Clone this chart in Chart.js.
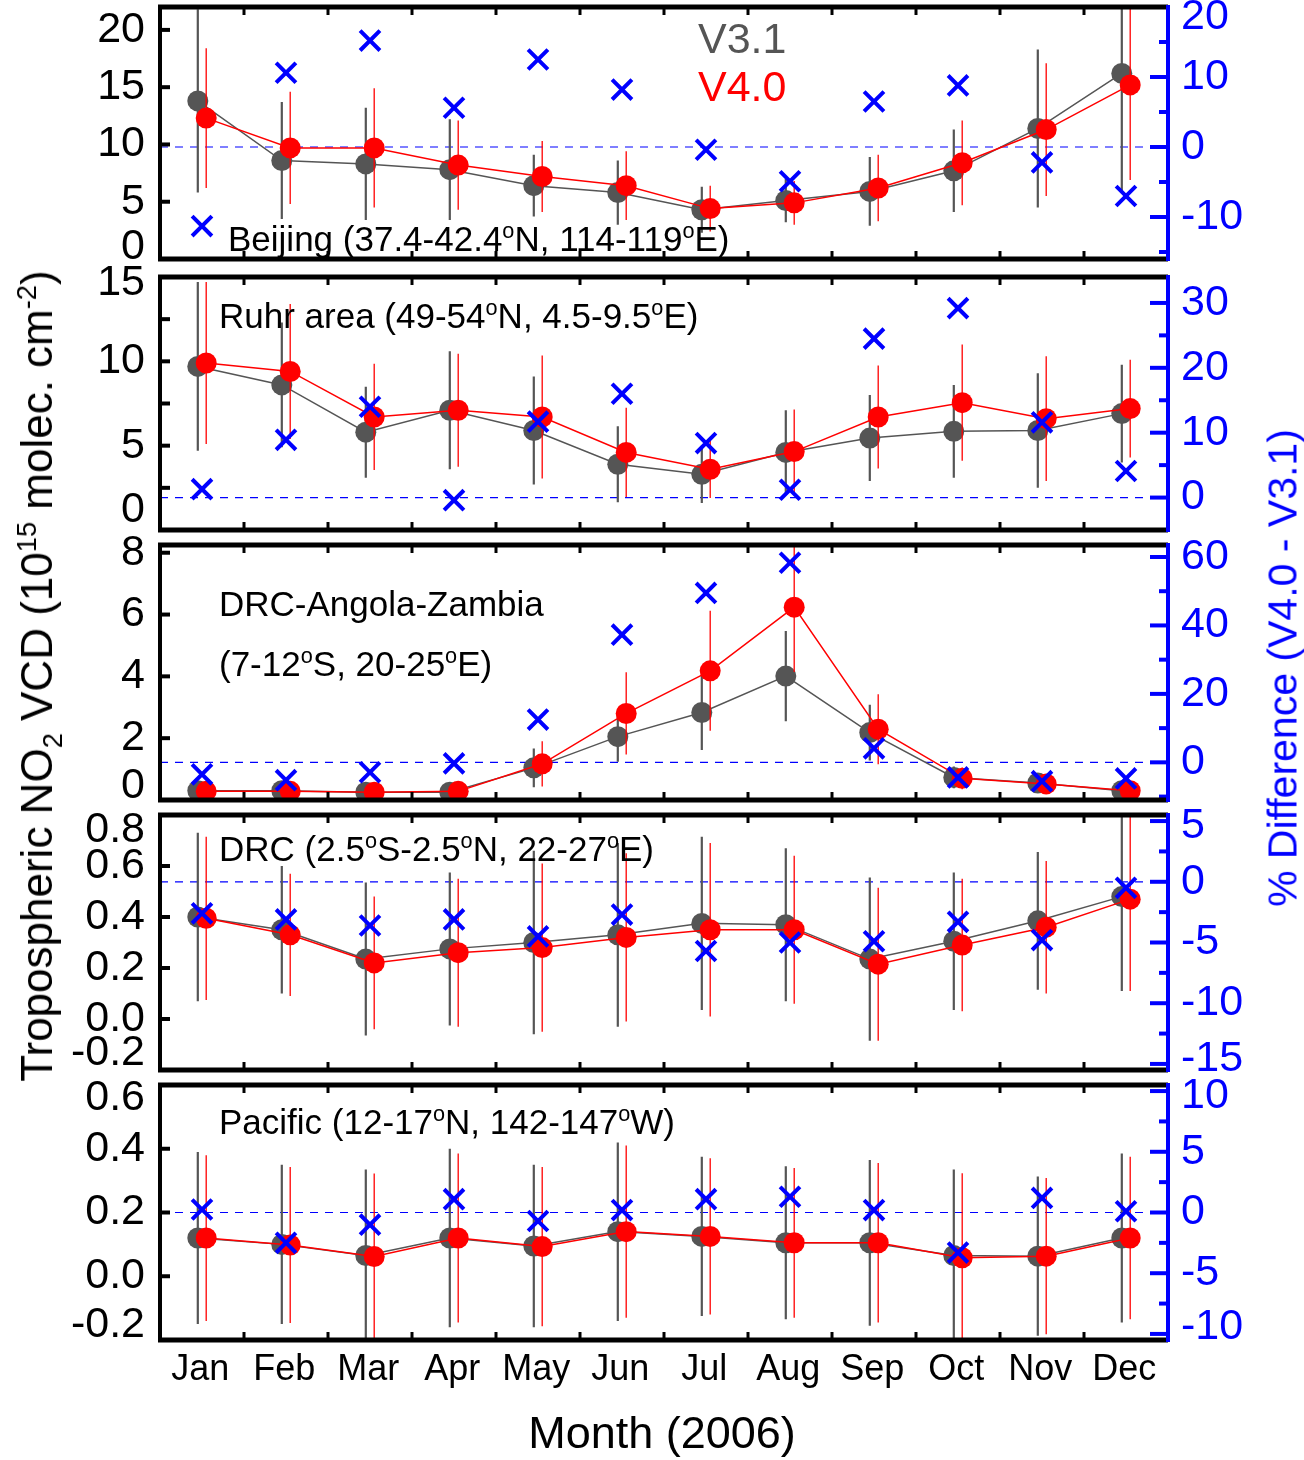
<!DOCTYPE html>
<html>
<head>
<meta charset="utf-8">
<script src="https://cdn.jsdelivr.net/npm/chart.js@4.4.1/dist/chart.umd.min.js"></script>
<style>
  html, body { margin: 0; padding: 0; background: #fff; }
  #wrap { position: relative; width: 1304px; height: 1460px; overflow: hidden;
          font-family: 'Liberation Sans', Arial, Helvetica, sans-serif; }
  canvas { position: absolute; left: 0; }
  .txt { position: absolute; white-space: nowrap; line-height: 1; transform: translateY(-50%); color: #000; }
  .rot { position: absolute; white-space: nowrap; line-height: 1; transform: translate(-50%, -50%) rotate(-90deg); }
  sup, sub { font-size: 0.62em; line-height: 0; }
</style>
</head>
<body>
<div id="wrap">
  <canvas id="p0"></canvas>
  <canvas id="p1"></canvas>
  <canvas id="p2"></canvas>
  <canvas id="p3"></canvas>
  <canvas id="p4"></canvas>

  <div class="txt" style="left:698px;top:38px;font-size:43px;color:#555">V3.1</div>
  <div class="txt" style="left:698px;top:86px;font-size:43px;color:#f00">V4.0</div>

  <div class="txt" style="left:228px;top:238px;font-size:35px">Beijing (37.4-42.4<sup>o</sup>N, 114-119<sup>o</sup>E)</div>
  <div class="txt" style="left:219px;top:315px;font-size:35px">Ruhr area (49-54<sup>o</sup>N, 4.5-9.5<sup>o</sup>E)</div>
  <div class="txt" style="left:219px;top:603px;font-size:35px">DRC-Angola-Zambia</div>
  <div class="txt" style="left:219px;top:663px;font-size:35px">(7-12<sup>o</sup>S, 20-25<sup>o</sup>E)</div>
  <div class="txt" style="left:219px;top:848px;font-size:35px">DRC (2.5<sup>o</sup>S-2.5<sup>o</sup>N, 22-27<sup>o</sup>E)</div>
  <div class="txt" style="left:219px;top:1121px;font-size:35px">Pacific (12-17<sup>o</sup>N, 142-147<sup>o</sup>W)</div>

  <div class="rot" style="left:37px;top:676px;font-size:44px">Tropospheric NO<sub>2</sub> VCD (10<sup>15</sup> molec. cm<sup>-2</sup>)</div>
  <div class="rot" style="left:1283px;top:668px;font-size:41px;color:#00f">% Difference (V4.0 - V3.1)</div>
  <div class="txt" style="left:662px;top:1432px;font-size:45px;transform:translate(-50%,-50%)">Month (2006)</div>
</div>

<script>
// ─── data ───────────────────────────────
const MONTHS = ['Jan', 'Feb', 'Mar', 'Apr', 'May', 'Jun', 'Jul', 'Aug', 'Sep', 'Oct', 'Nov', 'Dec'];

// Beijing
const BEIJING_V31 = [13.8, 8.6, 8.3, 7.8, 6.4, 5.8, 4.3, 5.1, 5.9, 7.7, 11.4, 16.2];
const BEIJING_V40 = [12.3, 9.7, 9.7, 8.2, 7.2, 6.4, 4.4, 4.9, 6.2, 8.4, 11.3, 15.2];
const BEIJING_E31 = [8.0, 5.1, 4.9, 4.4, 2.7, 2.8, 2.0, 1.9, 3.0, 3.6, 6.9, 10.2];
const BEIJING_E40 = [6.1, 4.9, 5.2, 3.9, 3.1, 3.0, 2.0, 1.9, 2.9, 3.7, 5.8, 8.3];
const BEIJING_DIFF = [-11.3, 10.6, 15.2, 5.6, 12.5, 8.2, -0.4, -4.9, 6.5, 8.8, -2.2, -7.0];

// Ruhr area
const RUHR_V31 = [9.7, 8.6, 5.8, 7.1, 5.9, 3.9, 3.3, 4.6, 5.45, 5.85, 5.9, 6.9];
const RUHR_V40 = [9.9, 9.4, 6.7, 7.1, 6.7, 4.6, 3.6, 4.65, 6.7, 7.55, 6.6, 7.2];
const RUHR_E31 = [5.0, 3.7, 2.7, 3.5, 3.2, 2.25, 1.7, 2.5, 2.55, 2.75, 3.4, 2.9];
const RUHR_E40 = [4.8, 4.0, 3.15, 3.35, 3.65, 2.65, 1.7, 2.5, 3.05, 3.45, 3.7, 2.9];
const RUHR_DIFF = [1.3, 8.9, 14.0, -0.4, 11.7, 16.0, 8.4, 1.2, 24.5, 29.2, 11.6, 4.1];

// DRC-Angola-Zambia
const DAZ_V31 = [0.3, 0.3, 0.25, 0.25, 1.04, 2.05, 2.83, 4.01, 2.18, 0.73, 0.55, 0.3];
const DAZ_V40 = [0.28, 0.28, 0.25, 0.28, 1.17, 2.8, 4.18, 6.24, 2.29, 0.7, 0.52, 0.3];
const DAZ_E31 = [0.15, 0.15, 0.15, 0.15, 0.63, 0.81, 1.21, 1.46, 0.9, 0.35, 0.2, 0.15];
const DAZ_E40 = [0.15, 0.15, 0.15, 0.15, 0.73, 1.33, 1.94, 2.1, 1.13, 0.35, 0.2, 0.15];
const DAZ_DIFF = [-3.5, -5.2, -2.9, -0.3, 12.5, 37.3, 49.5, 58.3, 4.1, -4.4, -5.5, -4.7];

// DRC
const DRC_V31 = [0.40, 0.35, 0.235, 0.275, 0.30, 0.33, 0.375, 0.37, 0.235, 0.305, 0.385, 0.48];
const DRC_V40 = [0.395, 0.33, 0.22, 0.26, 0.28, 0.32, 0.35, 0.35, 0.215, 0.29, 0.36, 0.47];
const DRC_E31 = [0.33, 0.25, 0.30, 0.30, 0.36, 0.36, 0.34, 0.30, 0.32, 0.27, 0.27, 0.37];
const DRC_E40 = [0.32, 0.24, 0.26, 0.29, 0.33, 0.33, 0.34, 0.29, 0.30, 0.26, 0.26, 0.36];
const DRC_DIFF = [-2.6, -3.1, -3.6, -3.1, -4.5, -2.7, -5.7, -5.0, -4.9, -3.3, -4.8, -0.5];

// Pacific
const PAC_V31 = [0.12, 0.10, 0.065, 0.12, 0.095, 0.14, 0.125, 0.105, 0.105, 0.065, 0.063, 0.12];
const PAC_V40 = [0.12, 0.098, 0.062, 0.12, 0.093, 0.14, 0.125, 0.105, 0.105, 0.058, 0.063, 0.12];
const PAC_E31 = [0.27, 0.25, 0.27, 0.28, 0.255, 0.28, 0.25, 0.24, 0.26, 0.27, 0.25, 0.265];
const PAC_E40 = [0.26, 0.245, 0.26, 0.265, 0.25, 0.27, 0.245, 0.235, 0.25, 0.265, 0.245, 0.255];
const PAC_DIFF = [0.25, -2.5, -1.0, 1.1, -0.7, 0.2, 1.1, 1.3, 0.2, -3.3, 1.2, 0.1];

// tick labels (left = VCD, right = % difference)
const LEFT_LABELS = [
    [0, 5, 10, 15, 20],
    [0, 5, 10, 15],
    [0, 2, 4, 6, 8],
    [-0.2, 0.0, 0.2, 0.4, 0.6, 0.8],
    [-0.2, 0.0, 0.2, 0.4, 0.6],
];
const RIGHT_LABELS = [
    [-10, 0, 10, 20],
    [0, 10, 20, 30],
    [0, 20, 40, 60],
    [-15, -10, -5, 0, 5],
    [-10, -5, 0, 5, 10],
];

// ─── style ──────────────────────────────
const FONT = "'Liberation Sans', Arial, Helvetica, sans-serif";
const BLUE = '#0000ff';
const GRAY = '#555555';
const RED = '#ff0000';
const PAD = 24;
const X_V31 = 0.45, X_V40 = 0.55, X_DIFF = 0.5;

// panel boxes, axis ranges, inward tick marks, edge-label nudges (px, + = up)
const PANELS = [
    { v31: BEIJING_V31, v40: BEIJING_V40, e31: BEIJING_E31, e40: BEIJING_E40, diff: BEIJING_DIFF,
      top: 7, bottom: 259, y: [0, 22], y1: [-16, 20], dec: 0,
      leftMarks: [5, 10, 15, 20], rMajor: [-10, 0, 10, 20], rMinor: [-15, -5, 5, 15],
      lShift: { '0': 12 }, rShift: { '20': -10 } },
    { v31: RUHR_V31, v40: RUHR_V40, e31: RUHR_E31, e40: RUHR_E40, diff: RUHR_DIFF,
      top: 277, bottom: 530, y: [0, 15], y1: [-5, 34], dec: 0,
      leftMarks: [2.5, 5, 7.5, 10, 12.5], rMajor: [0, 10, 20, 30], rMinor: [5, 15, 25],
      lShift: { '15': -6, '0': 20 }, rShift: {} },
    { v31: DAZ_V31, v40: DAZ_V40, e31: DAZ_E31, e40: DAZ_E40, diff: DAZ_DIFF,
      top: 545, bottom: 800, y: [0, 8.25], y1: [-11, 63.5], dec: 0,
      leftMarks: [2, 4, 6, 8], rMajor: [0, 20, 40, 60], rMinor: [-10, 10, 30, 50],
      lShift: { '0': 14 }, rShift: {} },
    { v31: DRC_V31, v40: DRC_V40, e31: DRC_E31, e40: DRC_E40, diff: DRC_DIFF,
      top: 815, bottom: 1070, y: [-0.2, 0.8], y1: [-15.5, 5.5], dec: 1,
      leftMarks: [0, 0.2, 0.4, 0.6], rMajor: [-15, -10, -5, 0, 5], rMinor: [-12.5, -7.5, -2.5, 2.5],
      lShift: { '0.8': -15, '-0.2': 17 }, rShift: { '5': -5, '-15': 5 } },
    { v31: PAC_V31, v40: PAC_V40, e31: PAC_E31, e40: PAC_E40, diff: PAC_DIFF,
      top: 1085, bottom: 1340, y: [-0.2, 0.6], y1: [-10.5, 10.5], dec: 1,
      leftMarks: [0, 0.2, 0.4], rMajor: [-10, -5, 0, 5, 10], rMinor: [-7.5, -2.5, 2.5, 7.5],
      lShift: { '0.6': -13, '-0.2': 15 }, rShift: { '10': -5, '-10': 7 } },
];

// ─── helpers ────────────────────────────
function series(xOff, vals) {
    return vals.map((v, i) => ({ x: i + xOff, y: v }));
}

// vertical error bars as broken line segments
function errorSegments(xOff, vals, errs) {
    const pts = [];
    vals.forEach((v, i) => {
        pts.push({ x: i + xOff, y: v - errs[i] }, { x: i + xOff, y: v + errs[i] }, { x: i + xOff, y: null });
    });
    return pts;
}

// fixed axis box, no extra label padding pushed into the chart area
function fixSize(dim, size) {
    return s => {
        s[dim] = size;
        s.paddingTop = s.paddingBottom = s.paddingLeft = s.paddingRight = 0;
    };
}

// label ticks; edge labels nudged inward via a two-line label
function labelledAxis(values, shifts, fmt, color) {
    const shiftOf = v => shifts[String(v)] || 0;
    return {
        afterBuildTicks: s => { s.ticks = values.map(v => ({ value: v })); },
        grid: { display: false, drawTicks: false },
        border: { display: false },
        ticks: {
            autoSkip: false,
            color,
            font: c => {
                const sh = c.tick ? shiftOf(c.tick.value) : 0;
                return { family: FONT, size: 43, lineHeight: sh ? Math.abs(sh) * 2 + 'px' : 1.2 };
            },
            callback: v => {
                const t = fmt(v), sh = shiftOf(v);
                return sh > 0 ? [t, ''] : sh < 0 ? ['', t] : t;
            },
        },
    };
}

function line(ctx, x1, y1, x2, y2) {
    ctx.beginPath();
    ctx.moveTo(x1, y1);
    ctx.lineTo(x2, y2);
    ctx.stroke();
}

// inward tick marks + frame (IDL style)
function framePlugin(p) {
    return {
        id: 'frame',
        afterDraw(chart) {
            const { ctx, chartArea: a, scales } = chart;
            ctx.save();
            ctx.lineCap = 'butt';

            ctx.strokeStyle = '#000';
            ctx.lineWidth = 3;
            for (let b = 1; b < MONTHS.length; b++) {
                const px = scales.x.getPixelForValue(b);
                line(ctx, px, a.top, px, a.top + 8);
                line(ctx, px, a.bottom, px, a.bottom - 8);
            }
            ctx.lineWidth = 4;
            p.leftMarks.forEach(v => {
                const py = scales.y.getPixelForValue(v);
                line(ctx, a.left, py, a.left + 10, py);
            });

            ctx.strokeStyle = BLUE;
            p.rMajor.forEach(v => {
                const py = scales.y1.getPixelForValue(v);
                line(ctx, a.right, py, a.right - 18, py);
            });
            p.rMinor.forEach(v => {
                const py = scales.y1.getPixelForValue(v);
                line(ctx, a.right, py, a.right - 9, py);
            });

            ctx.lineWidth = 5;
            ctx.strokeStyle = '#000';
            line(ctx, a.left - 2, a.top, a.right, a.top);
            line(ctx, a.left - 2, a.bottom, a.right, a.bottom);
            ctx.lineWidth = 4;
            line(ctx, a.left, a.top - 2, a.left, a.bottom + 2);
            ctx.strokeStyle = BLUE;
            line(ctx, a.right, a.top - 2, a.right, a.bottom + 2);
            ctx.restore();
        },
    };
}

// ─── build panels ───────────────────────
PANELS.forEach((p, k) => {
    const last = k === PANELS.length - 1;
    const bottomRoom = last ? 70 : PAD;
    const canvas = document.getElementById('p' + k);
    canvas.width = 1304;
    canvas.height = (p.bottom - p.top) + PAD + bottomRoom;
    canvas.style.top = (p.top - PAD) + 'px';

    const xAxis = {
        type: 'linear', min: 0, max: 12,
        display: last,
        grid: { display: false, drawTicks: false },
        border: { display: false },
        afterBuildTicks: s => { s.ticks = MONTHS.map((m, i) => ({ value: i + 0.48 })); },
        afterFit: fixSize('height', last ? 70 : 0),
        ticks: {
            autoSkip: false, maxRotation: 0, padding: 8, color: '#000',
            font: { family: FONT, size: 36 },
            callback: (v, i) => MONTHS[i],
        },
    };

    const yAxis = Object.assign(labelledAxis(LEFT_LABELS[k], p.lShift, v => v.toFixed(p.dec), '#000'), {
        type: 'linear', position: 'left', min: p.y[0], max: p.y[1],
        afterFit: fixSize('width', 160),
    });
    yAxis.ticks.padding = 15;

    const y1Axis = Object.assign(labelledAxis(RIGHT_LABELS[k], p.rShift, v => String(v), BLUE), {
        type: 'linear', position: 'right', min: p.y1[0], max: p.y1[1],
        afterFit: fixSize('width', 136),
    });
    y1Axis.ticks.padding = 13;

    new Chart(canvas, {
        type: 'line',
        data: {
            datasets: [
                {
                    label: '% diff', data: series(X_DIFF, p.diff), yAxisID: 'y1', order: 0,
                    showLine: false, pointStyle: 'crossRot', pointRadius: 14,
                    pointBorderColor: BLUE, pointBorderWidth: 4, borderColor: BLUE,
                },
                {
                    label: 'V4.0', data: series(X_V40, p.v40), yAxisID: 'y', order: 1,
                    borderColor: RED, borderWidth: 1.5, tension: 0,
                    pointRadius: 10.5, pointBackgroundColor: RED, pointBorderWidth: 0,
                },
                {
                    label: 'V4.0 err', data: errorSegments(X_V40, p.v40, p.e40), yAxisID: 'y', order: 2,
                    borderColor: RED, borderWidth: 1.3, pointRadius: 0, spanGaps: false,
                },
                {
                    label: 'V3.1', data: series(X_V31, p.v31), yAxisID: 'y', order: 3,
                    borderColor: GRAY, borderWidth: 1.5, tension: 0,
                    pointRadius: 10.5, pointBackgroundColor: GRAY, pointBorderWidth: 0,
                },
                {
                    label: 'V3.1 err', data: errorSegments(X_V31, p.v31, p.e31), yAxisID: 'y', order: 4,
                    borderColor: GRAY, borderWidth: 2.2, pointRadius: 0, spanGaps: false,
                },
                {
                    label: 'zero', data: [{ x: 0, y: 0 }, { x: 12, y: 0 }], yAxisID: 'y1', order: 5,
                    borderColor: BLUE, borderWidth: 1.2, borderDash: [8, 7], pointRadius: 0,
                },
            ],
        },
        options: {
            responsive: false,
            devicePixelRatio: 1,
            animation: false,
            events: [],
            layout: { padding: { top: PAD, bottom: last ? 0 : PAD, left: 0, right: 0 } },
            plugins: { legend: { display: false }, tooltip: { enabled: false } },
            scales: { x: xAxis, y: yAxis, y1: y1Axis },
        },
        plugins: [framePlugin(p)],
    });
});
</script>
</body>
</html>
